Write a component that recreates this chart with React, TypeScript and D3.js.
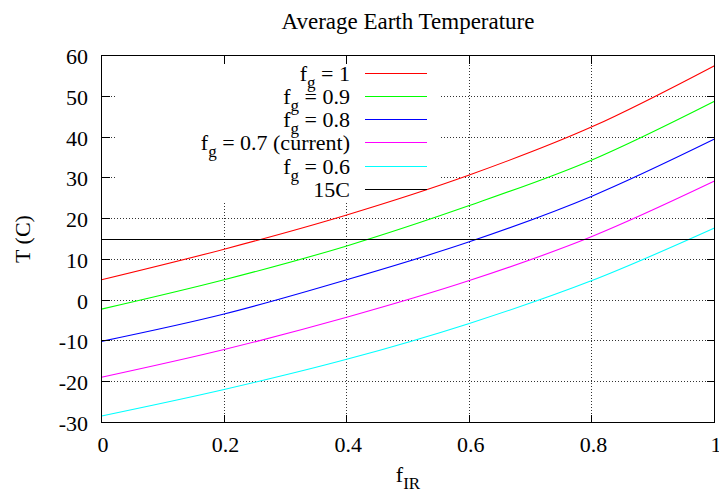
import React, { useEffect } from "react";
import { scaleLinear, line, curveMonotoneX } from "d3";

// sample points, fIR = 0, 0.2 ... 1
const fIR = [0, 0.2, 0.4, 0.6, 0.8, 1];
const fg10 = [5.0, 12.5, 20.9, 30.7, 42.5, 57.5];
const fg09 = [-2.2, 5.0, 13.3, 23.2, 34.4, 48.8];
const fg08 = [-10.1, -3.4, 5.0, 14.3, 25.5, 39.5];
const fg07 = [-18.9, -12.1, -4.2, 4.8, 15.6, 29.2];
const fg06 = [-28.4, -21.9, -14.5, -5.7, 4.8, 17.7];
const refX = [0, 1];
const refT = [15, 15];

const xTicks = [0, 0.2, 0.4, 0.6, 0.8, 1];
const yTicks = [-30, -20, -10, 0, 10, 20, 30, 40, 50, 60];

const series = [
  { sub: "g", label: " = 1", xs: fIR, ys: fg10, color: "#ff0000" },
  { sub: "g", label: " = 0.9", xs: fIR, ys: fg09, color: "#00ff00" },
  { sub: "g", label: " = 0.8", xs: fIR, ys: fg08, color: "#0000ff" },
  { sub: "g", label: " = 0.7 (current)", xs: fIR, ys: fg07, color: "#ff00ff" },
  { sub: "g", label: " = 0.6", xs: fIR, ys: fg06, color: "#00ffff" },
  { sub: "", label: "15C", xs: refX, ys: refT, color: "#000000" },
];

const W = 719;
const H = 493;
const left = 101.5, right = 714.5, top = 55.5, bottom = 422.5;
const font = "'Liberation Serif', 'Times New Roman', serif";

export default function App() {
  useEffect(() => {
    document.body.style.margin = "0";
  }, []);

  const x = scaleLinear().domain([0, 1]).range([left, right]);
  const y = scaleLinear().domain([-30, 60]).range([bottom, top]);
  const px = (v: number) => Math.round(v - 0.5) + 0.5;

  // key box (opaque, hides grid)
  const key = { x0: 115, x1: 441, y1: 201 };
  const keyText = 350;
  const keyLine = [365, 427];
  const rowY = (i: number) => px(73.5 + i * 23.15);

  const path = (xs: number[], ys: number[]) =>
    line<number>()
      .x((d, i) => x(xs[i]))
      .y((d) => y(d))
      .curve(curveMonotoneX)(ys) || "";

  return (
    <svg
      width={W}
      height={H}
      style={{ position: "absolute", left: 0, top: 0, background: "#fff" }}
      fontFamily={font}
      fontSize={22}
    >
      <rect width={W} height={H} fill="#fff" />

      {/* grid */}
      <g stroke="#000" strokeWidth={1} strokeDasharray="1,2" opacity={0.8} shapeRendering="crispEdges">
        {xTicks.slice(1, -1).map((t) => (
          <line key={"gx" + t} x1={px(x(t))} x2={px(x(t))} y1={bottom} y2={top} />
        ))}
        {yTicks.slice(1, -1).map((t) => (
          <line key={"gy" + t} x1={left} x2={right} y1={px(y(t))} y2={px(y(t))} />
        ))}
      </g>
      <rect x={key.x0} y={top} width={key.x1 - key.x0} height={key.y1 - top} fill="#fff" />

      {/* curves */}
      <g fill="none">
        {series.map((s) =>
          s.xs.length === 2 ? (
            <line
              key={s.label}
              x1={x(s.xs[0])}
              x2={x(s.xs[1])}
              y1={px(y(s.ys[0]))}
              y2={px(y(s.ys[1]))}
              stroke={s.color}
              strokeWidth={1}
              shapeRendering="crispEdges"
            />
          ) : (
            <path key={s.label} d={path(s.xs, s.ys)} stroke={s.color} strokeWidth={1.1} />
          )
        )}
      </g>

      {/* key */}
      {series.map((s, i) => (
        <g key={"k" + s.label}>
          <text x={keyText} y={rowY(i) + 7.5} textAnchor="end" fill="#000">
            {s.sub ? (
              <>
                f
                <tspan fontSize={17} dy={6.5}>
                  {s.sub}
                </tspan>
                <tspan dy={-6.5}>{s.label}</tspan>
              </>
            ) : (
              s.label
            )}
          </text>
          <line
            x1={keyLine[0]}
            x2={keyLine[1]}
            y1={rowY(i)}
            y2={rowY(i)}
            stroke={s.color}
            strokeWidth={1}
            shapeRendering="crispEdges"
          />
        </g>
      ))}

      {/* border and ticks */}
      <g stroke="#000" strokeWidth={1} shapeRendering="crispEdges">
        <rect x={left} y={top} width={right - left} height={bottom - top} fill="none" />
        {xTicks.map((t) => (
          <g key={"tx" + t}>
            <line x1={px(x(t))} x2={px(x(t))} y1={bottom} y2={bottom - 8} />
            <line x1={px(x(t))} x2={px(x(t))} y1={top} y2={top + 8} />
          </g>
        ))}
        {yTicks.map((t) => (
          <g key={"ty" + t}>
            <line x1={left} x2={left + 8} y1={px(y(t))} y2={px(y(t))} />
            <line x1={right} x2={right - 8} y1={px(y(t))} y2={px(y(t))} />
          </g>
        ))}
      </g>

      {/* tick labels */}
      {xTicks.map((t) => (
        <text key={"lx" + t} x={x(t) + 1.5} y={451.5} textAnchor="middle" fill="#000">
          {String(t)}
        </text>
      ))}
      {yTicks.map((t) => (
        <text key={"ly" + t} x={88} y={y(t) + 8.5} textAnchor="end" fill="#000">
          {String(t)}
        </text>
      ))}

      {/* titles */}
      <text x={(left + right) / 2} y={29} textAnchor="middle" fill="#000" fontSize={23}>
        Average Earth Temperature
      </text>
      <text x={(left + right) / 2} y={482} textAnchor="middle" fill="#000">
        f
        <tspan fontSize={17} dy={6.5}>
          IR
        </tspan>
      </text>
      <text transform={`translate(30,${(top + bottom) / 2}) rotate(-90)`} textAnchor="middle" fill="#000">
        T (C)
      </text>
    </svg>
  );
}
